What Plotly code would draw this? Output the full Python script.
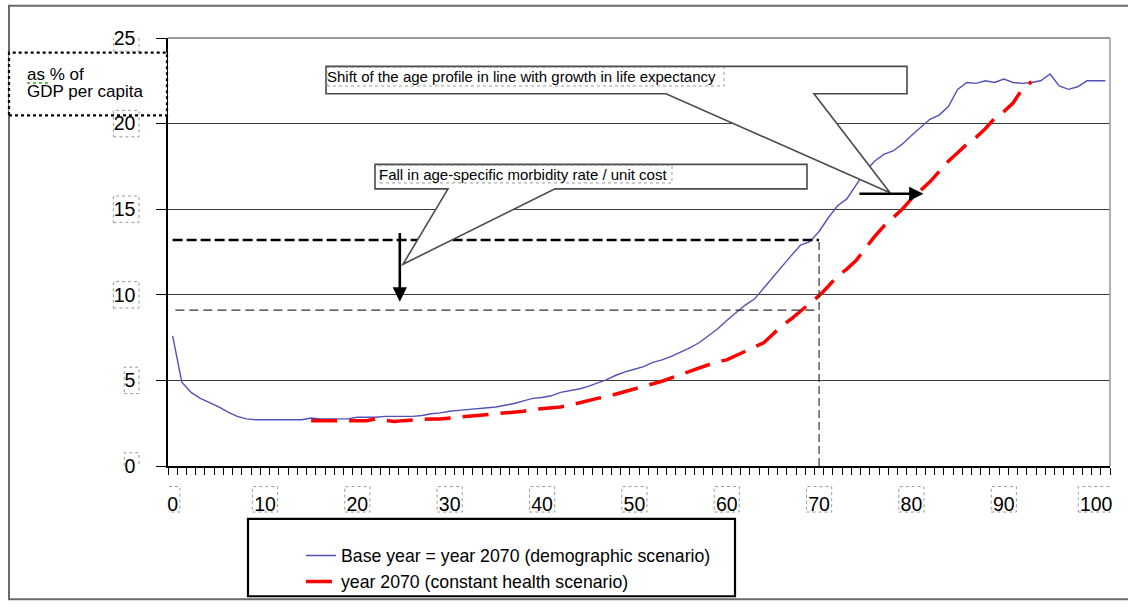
import plotly.graph_objects as go

# ---------------- data ----------------
ages = list(range(0, 102))
base_year = [7.6, 4.9, 4.3, 3.95, 3.7, 3.45, 3.15, 2.9, 2.75, 2.7,
             2.7, 2.7, 2.7, 2.7, 2.7, 2.8, 2.75, 2.75, 2.75, 2.75,
             2.85, 2.85, 2.85, 2.9, 2.9, 2.9, 2.9, 2.95, 3.05, 3.1,
             3.2, 3.25, 3.3, 3.35, 3.4, 3.45, 3.55, 3.65, 3.8, 3.95,
             4.0, 4.1, 4.3, 4.4, 4.5, 4.65, 4.85, 5.05, 5.3, 5.5,
             5.65, 5.8, 6.05, 6.2, 6.4, 6.65, 6.9, 7.2, 7.6, 8.0,
             8.5, 8.95, 9.4, 9.75, 10.4, 11.0, 11.7, 12.3, 12.9, 13.1,
             13.7, 14.5, 15.2, 15.6, 16.4, 17.2, 17.8, 18.2, 18.4, 18.8,
             19.3, 19.8, 20.25, 20.5, 21.0, 22.0, 22.4, 22.35, 22.5, 22.4,
             22.6, 22.4, 22.35, 22.4, 22.5, 22.9, 22.2, 22.0, 22.15, 22.5,
             22.5, 22.5]

health_ages = list(range(15, 94))
constant_health = [2.65, 2.65, 2.65, 2.6, 2.6, 2.65, 2.65, 2.75, 2.7, 2.6,
                   2.65, 2.7, 2.7, 2.75, 2.75, 2.8, 2.85, 2.85, 2.9, 2.95,
                   3.0, 3.05, 3.15, 3.2, 3.3, 3.35, 3.4, 3.45, 3.55, 3.7,
                   3.85, 3.95, 4.05, 4.2, 4.3, 4.45, 4.6, 4.75, 4.95, 5.15,
                   5.35, 5.55, 5.75, 5.95, 6.1, 6.2, 6.45, 6.7, 6.9, 7.2,
                   7.7, 8.2, 8.6, 9.05, 9.5, 9.95, 10.5, 11.1, 11.5, 12.0,
                   12.7, 13.4, 14.0, 14.5, 15.0, 15.6, 16.1, 16.6, 17.2, 17.8,
                   18.3, 18.8, 19.2, 19.7, 20.3, 20.7, 21.2, 22.0, 22.45]

series_names = ["Base year = year 2070 (demographic scenario)",
                "year 2070 (constant health scenario)"]

x_tick_vals = [0, 10, 20, 30, 40, 50, 60, 70, 80, 90, 100]
x_tick_text = [str(v) for v in x_tick_vals]
y_tick_vals = [0, 5, 10, 15, 20, 25]
y_tick_text = [str(v) for v in y_tick_vals]

ref_age = 70          # vertical reference line
base_level = 13.2     # level of the base-year profile at the reference age
fall_level = 9.1      # level after the fall in morbidity
fall_arrow_age = 24.6
fall_arrow_from = 13.7
fall_arrow_to = 9.6
shift_level = 15.9
shift_from_age = 74.2
shift_to_age = 81.3

shift_text = "Shift of the age profile in line with growth in life expectancy"
fall_text = "Fall in age-specific morbidity rate / unit cost"

# ---------------- layout geometry (pixels) ----------------
FIG_W, FIG_H = 1128, 612
L, R, T, B = 168, 1110, 38, 475
PW, PH = R - L, B - T


def px(x):
    return (x - L) / PW


def py(y):
    return (B - y) / PH


FONT = "Arial, Liberation Sans, sans-serif"

fig = go.Figure()

fig.add_trace(go.Scatter(
    x=ages, y=base_year, mode="lines", name=series_names[0],
    line=dict(color="#5252B8", width=1.4), legendgroup="a",
))
fig.add_trace(go.Scatter(
    x=health_ages, y=constant_health, mode="lines", name=series_names[1],
    line=dict(color="#FF0000", width=3.5, dash="26px,12px"), legendgroup="b",
))

shapes = []

# outer frame of the picture
shapes.append(dict(type="rect", xref="paper", yref="paper",
                   x0=px(9), x1=px(1140), y0=py(611), y1=py(5),
                   line=dict(color="#6a6a6a", width=2), layer="below"))

# plot area border (top and right, grey)
shapes.append(dict(type="line", xref="paper", yref="paper",
                   x0=0, x1=1, y0=1, y1=1, line=dict(color="#9a9a9a", width=2)))
shapes.append(dict(type="line", xref="paper", yref="paper",
                   x0=1, x1=1, y0=0, y1=1, line=dict(color="#9a9a9a", width=1.5)))

# reference dashed lines
shapes.append(dict(type="line", xref="x", yref="y",
                   x0=0, x1=ref_age, y0=base_level, y1=base_level,
                   line=dict(color="black", width=2.6, dash="10px,4px")))
shapes.append(dict(type="line", xref="x", yref="y",
                   x0=0.3, x1=ref_age, y0=fall_level, y1=fall_level,
                   line=dict(color="#333333", width=1.2, dash="9px,5px")))
shapes.append(dict(type="line", xref="x", yref="y",
                   x0=ref_age, x1=ref_age, y0=0, y1=base_level,
                   line=dict(color="#333333", width=1.2, dash="8px,4px")))


def callout_path(x0, y0, x1, y1, wl, wr, tx, ty):
    pts = [(x0, y0), (x1, y0), (x1, y1), (wr, y1), (tx, ty), (wl, y1), (x0, y1)]
    d = "M " + " L ".join(f"{px(a):.5f},{py(b):.5f}" for a, b in pts) + " Z"
    return d


# upper callout (shift)
shapes.append(dict(type="path", xref="paper", yref="paper",
                   path=callout_path(326, 67, 907, 95, 666, 814, 890, 196),
                   fillcolor="white", line=dict(color="#4a4a4a", width=1.6)))
shapes.append(dict(type="rect", xref="paper", yref="paper",
                   x0=px(327), x1=px(724), y0=py(87), y1=py(68),
                   line=dict(color="#9a9a9a", width=1, dash="dot")))
# lower callout (fall)
shapes.append(dict(type="path", xref="paper", yref="paper",
                   path=callout_path(375, 167, 807, 192, 448, 555, 403, 269),
                   fillcolor="white", line=dict(color="#4a4a4a", width=1.6)))
shapes.append(dict(type="rect", xref="paper", yref="paper",
                   x0=px(380), x1=px(672), y0=py(186), y1=py(168),
                   line=dict(color="#9a9a9a", width=1, dash="dot")))

# unit label box
shapes.append(dict(type="rect", xref="paper", yref="paper",
                   x0=px(9), x1=px(167), y0=py(117), y1=py(53),
                   fillcolor="white", line=dict(color="black", width=2.2, dash="dot")))
shapes.append(dict(type="line", xref="paper", yref="paper",
                   x0=px(27), x1=px(48), y0=py(84), y1=py(84),
                   line=dict(color="#3aa33a", width=1.5, dash="dot")))

# legend box
shapes.append(dict(type="rect", xref="paper", yref="paper",
                   x0=px(248), x1=px(735), y0=py(608), y1=py(529),
                   line=dict(color="black", width=2.2)))

# dotted boxes around tick labels (selection frames)
for v, t in zip(x_tick_vals, x_tick_text):
    half = (len(t) * 10.6 + 4) / 2 / (PW / 102.0)
    shapes.append(dict(type="rect", xref="x", yref="paper",
                       x0=v - half, x1=v + half, y0=py(522), y1=py(496),
                       line=dict(color="#9a9a9a", width=1, dash="dot")))
for v, t in zip(y_tick_vals, y_tick_text):
    w = len(t) * 10.8 + 4
    shapes.append(dict(type="rect", xref="paper", yref="y",
                       x0=px(139 - w), x1=px(139),
                       y0=v - 13.5 / (PH / 25.0), y1=v + 13.5 / (PH / 25.0),
                       line=dict(color="#9a9a9a", width=1, dash="dot")))

annotations = []
annotations.append(dict(xref="paper", yref="paper", x=px(25), y=py(75),
                        xanchor="left", yanchor="middle", showarrow=False,
                        text="as % of", font=dict(family=FONT, size=17, color="black")))
annotations.append(dict(xref="paper", yref="paper", x=px(25), y=py(93),
                        xanchor="left", yanchor="middle", showarrow=False,
                        text="GDP per capita", font=dict(family=FONT, size=17, color="black")))
annotations.append(dict(xref="paper", yref="paper", x=px(325), y=py(77),
                        xanchor="left", yanchor="middle", showarrow=False,
                        text=shift_text, font=dict(family=FONT, size=15, color="black")))
annotations.append(dict(xref="paper", yref="paper", x=px(377), y=py(177),
                        xanchor="left", yanchor="middle", showarrow=False,
                        text=fall_text, font=dict(family=FONT, size=15, color="black")))
# arrows
annotations.append(dict(xref="x", yref="y", axref="x", ayref="y",
                        x=fall_arrow_age, y=fall_arrow_to,
                        ax=fall_arrow_age, ay=fall_arrow_from,
                        showarrow=True, arrowhead=2, arrowsize=1.1, arrowwidth=2.6,
                        arrowcolor="black", text=""))
annotations.append(dict(xref="x", yref="y", axref="x", ayref="y",
                        x=shift_to_age, y=shift_level,
                        ax=shift_from_age, ay=shift_level,
                        showarrow=True, arrowhead=2, arrowsize=1.1, arrowwidth=2.6,
                        arrowcolor="black", text=""))

fig.update_layout(
    width=FIG_W, height=FIG_H,
    margin=dict(l=L, r=FIG_W - R, t=T, b=FIG_H - B, pad=0),
    paper_bgcolor="white", plot_bgcolor="white",
    font=dict(family=FONT, color="black"),
    shapes=shapes, annotations=annotations,
    showlegend=True,
    legend=dict(x=px(301), y=py(548), xanchor="left", yanchor="top",
                bgcolor="rgba(0,0,0,0)", borderwidth=0,
                font=dict(family=FONT, size=17.7, color="black"),
                tracegroupgap=8, traceorder="normal"),
)

fig.update_xaxes(
    range=[-0.5, 101.5], tickvals=x_tick_vals, ticktext=x_tick_text,
    ticks="", showgrid=False, zeroline=False,
    showline=True, linecolor="black", linewidth=1.5,
    tickfont=dict(family=FONT, size=19.5, color="black"),
    ticklabelstandoff=20,
    minor=dict(ticks="outside", tick0=-0.5, dtick=1, ticklen=7,
               tickcolor="black", tickwidth=1.2, showgrid=False),
)
fig.update_yaxes(
    range=[0, 25], tickvals=y_tick_vals, ticktext=y_tick_text,
    ticks="outside", ticklen=10, tickcolor="black", tickwidth=1.3,
    showgrid=True, gridcolor="#3c3c3c", gridwidth=1.3, zeroline=False,
    showline=True, linecolor="black", linewidth=1.5,
    tickfont=dict(family=FONT, size=19.5, color="black"),
    ticklabelstandoff=17,
)

fig.write_html(
    "out.html",
    config={"displayModeBar": False},
    post_script=("document.body.style.margin='0';"
                 "document.body.style.padding='0';"
                 "document.body.style.overflow='hidden';"
                 "document.documentElement.style.overflow='hidden';"),
)
